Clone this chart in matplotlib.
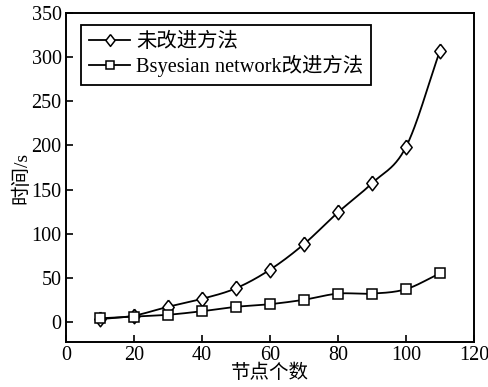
import numpy as np
import matplotlib
matplotlib.use("Agg")
import matplotlib.pyplot as plt
from matplotlib.lines import Line2D

x_nodes = [10, 20, 30, 40, 50, 60, 70, 80, 90, 100, 110]
y_orig = [3, 7, 17, 26, 38, 59, 88, 124, 157, 198, 307]
y_bayes = [4, 6, 8, 12, 17, 20, 25, 32, 32, 37, 55]
label_orig = "未改进方法"
label_bayes = "Bsyesian network改进方法"
x_ticks = [0, 20, 40, 60, 80, 100, 120]
y_ticks = [0, 50, 100, 150, 200, 250, 300, 350]

FAM = ['Liberation Serif', 'Noto Sans CJK SC']
plt.rcParams['font.family'] = FAM


def smooth_curve(x, y, n=40):
    """Catmull-Rom style Hermite smoothing for drawing the connecting line."""
    x = np.asarray(x, float); y = np.asarray(y, float)
    m = len(x)
    t = np.empty(m)
    t[1:-1] = (y[2:] - y[:-2]) / (x[2:] - x[:-2])
    t[0] = (y[1] - y[0]) / (x[1] - x[0])
    t[-1] = (y[-1] - y[-2]) / (x[-1] - x[-2])
    xs_all, ys_all = [], []
    for i in range(m - 1):
        h = x[i + 1] - x[i]
        s = np.linspace(0, 1, n)
        h00 = 2 * s**3 - 3 * s**2 + 1; h10 = s**3 - 2 * s**2 + s
        h01 = -2 * s**3 + 3 * s**2; h11 = s**3 - s**2
        xs_all.append(x[i] + s * h)
        ys_all.append(h00 * y[i] + h10 * h * t[i] + h01 * y[i + 1] + h11 * h * t[i + 1])
    return np.concatenate(xs_all), np.concatenate(ys_all)

diamond = [(0, 1), (0.78, 0), (0, -1), (-0.78, 0), (0, 1)]
mstyle = {'D': dict(marker=diamond, ms=10.5), 's': dict(marker='s', ms=7.2)}
lstyle = {'D': dict(marker=diamond, ms=8.5), 's': dict(marker='s', ms=5.8)}

fig = plt.figure(figsize=(4.88, 3.87), dpi=100)
ax = fig.add_axes([0.135, 0.116, 0.836, 0.850])

for ys, mk in [(y_orig, 'D'), (y_bayes, 's')]:
    sx, sy = smooth_curve(x_nodes, ys)
    ax.plot(sx, sy, color='black', lw=1.3)
    ax.plot(x_nodes, ys, linestyle='none', mfc='white', mec='black', mew=1.1, **mstyle[mk])

handles = [Line2D([], [], color='black', lw=1.3, mfc='white', mec='black', mew=1.1, **lstyle['D']),
           Line2D([], [], color='black', lw=1.3, mfc='white', mec='black', mew=1.1, **lstyle['s'])]
leg = ax.legend(handles, [label_orig, label_bayes], loc='upper left',
                bbox_to_anchor=(0.037, 0.965), fancybox=False, framealpha=1,
                edgecolor='black', handlelength=2.0, handletextpad=0.3,
                borderpad=0.4, labelspacing=0.15, borderaxespad=0,
                prop={'family': FAM, 'size': 14.7})
leg.get_frame().set_linewidth(1.3)

ax.set_xlim(0, 120)
ax.set_ylim(-23, 350)
ax.set_xticks(x_ticks)
ax.set_yticks(y_ticks)
ax.tick_params(direction='in', length=5, width=1.2, labelsize=14.5, pad=3, top=False, right=False)
for s in ax.spines.values():
    s.set_linewidth(1.4)
ax.set_xlabel("节点个数", fontsize=14, labelpad=-1)
ax.set_ylabel("时间/s", fontsize=14, labelpad=1)

fig.savefig("out.png", dpi=100)
